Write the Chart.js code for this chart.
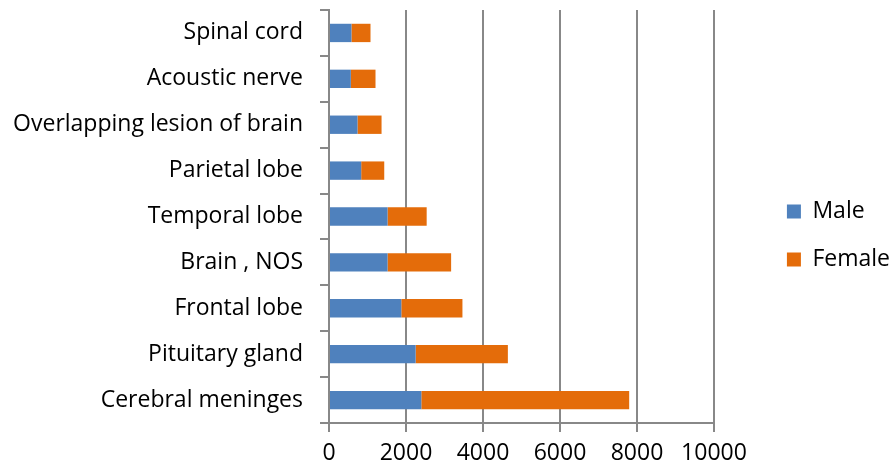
<!DOCTYPE html>
<html>
<head>
<meta charset="utf-8">
<script src="https://cdn.jsdelivr.net/npm/chart.js@4/dist/chart.umd.min.js"></script>
<style>
	body { margin: 0; background: #ffffff; }
</style>
</head>
<body>
<canvas id="chartCanvas" width="891" height="471"></canvas>
<script>
const sites = [
	"Spinal cord",
	"Acoustic nerve",
	"Overlapping lesion of brain",
	"Parietal lobe",
	"Temporal lobe",
	"Brain , NOS",
	"Frontal lobe",
	"Pituitary gland",
	"Cerebral meninges",
];
const maleCases = [583, 567, 740, 836, 1521, 1521, 1878, 2250, 2398];
const femaleCases = [495, 641, 625, 599, 1016, 1651, 1588, 2396, 5399];
const xTicks = [0, 2000, 4000, 6000, 8000, 10000];

const gridColor = "#888888";
const fontFamily = "'Open Sans', sans-serif";
const fontSize = 23;
const rightMargin = 2;

// push the legend over to the right, away from the plot
const legendToEdge = {
	id: "legendToEdge",
	afterLayout: (chart) => {
		const legend = chart.legend;
		if (!legend) return;
		const shift = chart.width - rightMargin - legend.right + 11;
		legend.left += shift;
		legend.right += shift;
	},
};

const chartData = {
	labels: sites,
	datasets: [
		{
			label: "Male",
			data: maleCases,
			backgroundColor: "#4f81bd",
			borderWidth: 0,
		},
		{
			label: "Female",
			data: femaleCases,
			backgroundColor: "#e46c0a",
			borderWidth: 0,
		},
	],
};

const chartConfig = {
	type: "bar",
	data: chartData,
	plugins: [legendToEdge],
	options: {
		indexAxis: "y",
		responsive: false,
		animation: false,
		devicePixelRatio: 1,
		layout: {
			padding: { top: 10, left: 8, right: rightMargin, bottom: 10 },
		},
		datasets: {
			bar: {
				barPercentage: 0.4,
				categoryPercentage: 1,
			},
		},
		scales: {
			x: {
				stacked: true,
				min: xTicks[0],
				max: xTicks[xTicks.length - 1],
				afterBuildTicks: (scale) => {
					scale.ticks = xTicks.map((v) => ({ value: v }));
				},
				afterFit: (scale) => {
					scale.paddingRight = 177;
					scale.height = 38;
				},
				ticks: {
					color: "#000000",
					padding: 8,
					maxRotation: 0,
					font: { family: fontFamily, size: fontSize },
					callback: (value) => String(value),
				},
				grid: {
					color: gridColor,
					lineWidth: 2,
					tickLength: 9,
				},
				border: { color: gridColor, width: 2 },
			},
			y: {
				stacked: true,
				afterFit: (scale) => {
					scale.width = 321;
					scale.paddingTop = 0;
					scale.paddingBottom = 0;
				},
				ticks: {
					color: "#000000",
					padding: 17,
					font: { family: fontFamily, size: fontSize },
				},
				grid: {
					color: gridColor,
					lineWidth: 2,
					tickLength: 9,
					drawOnChartArea: false,
					offset: true,
				},
				border: { color: gridColor, width: 2 },
			},
		},
		plugins: {
			legend: {
				display: true,
				position: "right",
				align: "center",
				labels: {
					boxWidth: 14,
					boxHeight: 14,
					padding: 25,
					color: "#000000",
					font: { family: fontFamily, size: fontSize },
				},
			},
			tooltip: { enabled: false },
		},
	},
};

const chartCanvas = document.getElementById("chartCanvas");
const brainChart = new Chart(chartCanvas, chartConfig);
</script>
</body>
</html>
